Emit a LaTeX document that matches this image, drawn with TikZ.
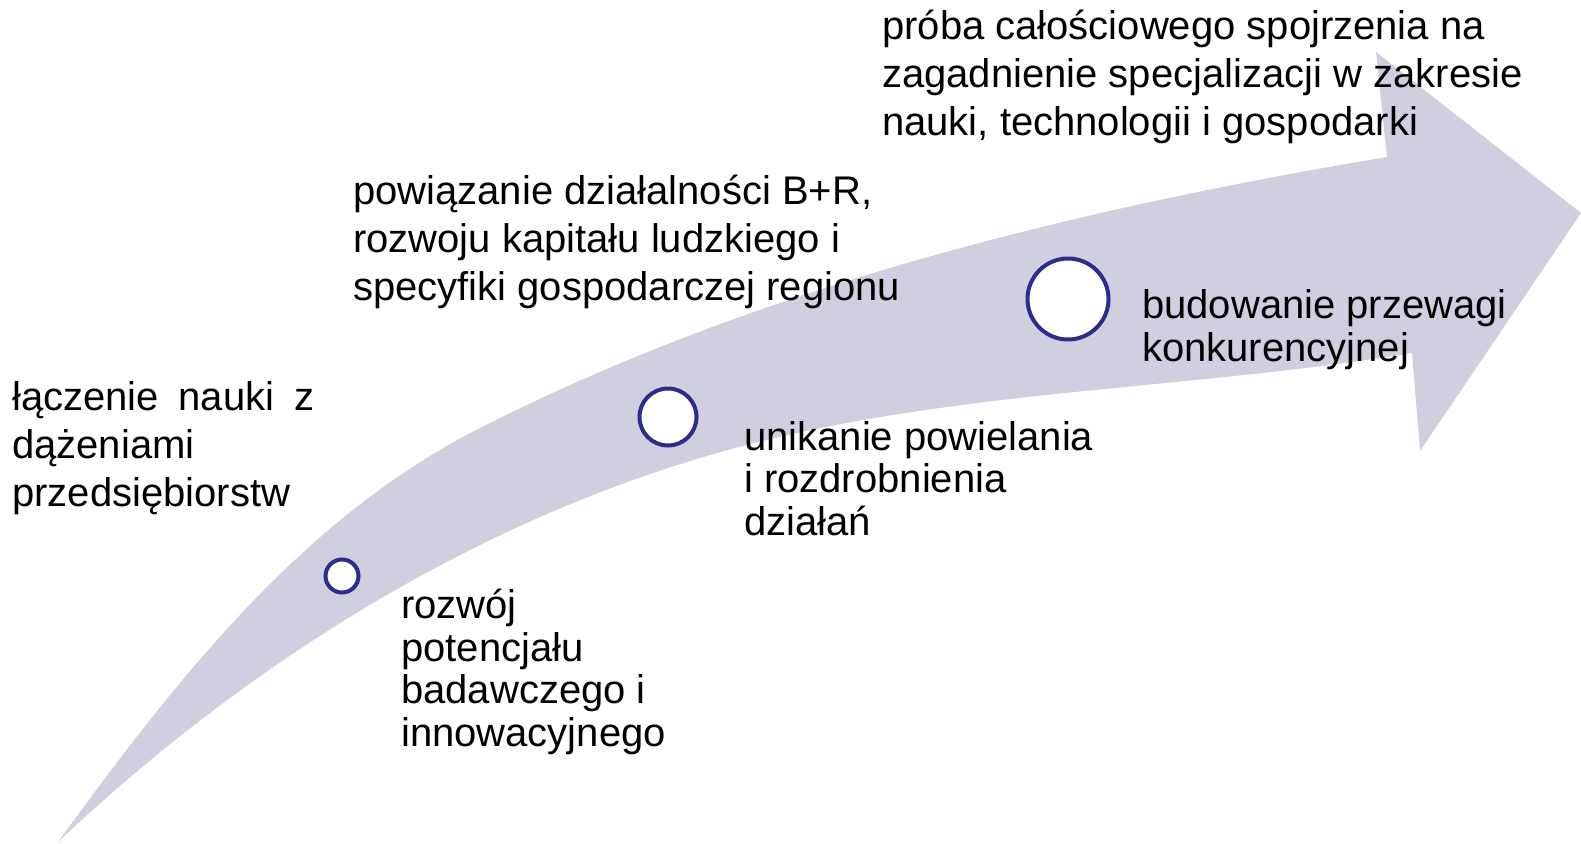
\documentclass[tikz,border=0pt]{standalone}
\usepackage{fontspec}
\setmainfont{Liberation Sans}
\definecolor{arrowfill}{RGB}{207,207,224}
\definecolor{ringcol}{RGB}{44,44,140}
\begin{document}
\begin{tikzpicture}[x=1pt,y=-1pt,
  lbl/.style={anchor=base west,inner sep=0pt,align=left,font=\fontsize{40}{48}\selectfont},
  lblt/.style={anchor=base west,inner sep=0pt,align=left,font=\fontsize{40}{42.5}\selectfont},
  ring/.style={circle,draw=ringcol,line width=4pt,fill=white,inner sep=0pt}]
\useasboundingbox (0,0) rectangle (1581,843);
% big curved arrow
\fill[arrowfill] (58,842)
  .. controls (176,680) and (302,518) .. (480,428)
  .. controls (760,286) and (1076,209) .. (1387,157)
  -- (1376,52) -- (1581,213) -- (1420,451) -- (1412,353)
  .. controls (1175,392) and (930,389) .. (700,458)
  .. controls (460,530) and (240,670) .. (58,842)
  -- cycle;
% circles
\node[ring,minimum size=33pt] (c1) at (342,576) {};
\node[ring,minimum size=57pt] (c2) at (668,417) {};
\node[ring,minimum size=81pt] (c3) at (1068,299) {};
% texts (anchor = baseline of the last line)
\node[lbl] (t1) at (882,135) {próba całościowego spojrzenia na\\zagadnienie specjalizacji w zakresie\\nauki, technologii i gospodarki};
\node[lbl] (t2) at (353,300) {powiązanie działalności B+R,\\rozwoju kapitału ludzkiego i\\specyfiki gospodarczej regionu};
\node[lbl] (t3) at (12,506) {\makebox[302pt][s]{łączenie nauki z}\\dążeniami\\przedsiębiorstw};
\node[lblt] (t4) at (401,746) {rozwój\\potencjału\\badawczego i\\innowacyjnego};
\node[lblt] (t5) at (744,535) {unikanie powielania\\i rozdrobnienia\\działań};
\node[lblt] (t6) at (1142,361) {budowanie przewagi\\konkurencyjnej};
\end{tikzpicture}
\end{document}
